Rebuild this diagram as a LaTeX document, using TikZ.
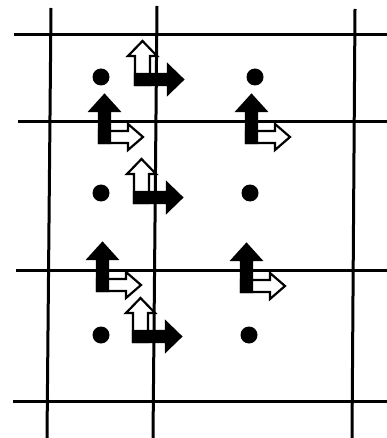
\documentclass[tikz,border=0pt]{standalone}
\begin{document}
\begin{tikzpicture}[x=1pt,y=-1pt,
  gridline/.style={line width=3pt,black},
  arr/.style={line width=2.2pt,line join=miter,draw=black},
  dot/.style={circle,fill=black,inner sep=0pt,minimum size=17pt},
  pics/typeA/.style={code={
    \draw[arr,fill=white] (0,0) -- (0,-29) -- (-7,-29) -- (7.5,-44) -- (22,-29) -- (15,-29) -- (15,0) -- cycle;
    \draw[arr,fill=black] (0,0) -- (0,-11) -- (33,-11) -- (33,-20) -- (48,-5.5) -- (33,9) -- (33,0) -- cycle;
  }},
  pics/typeB/.style={code={
    \draw[arr,fill=white] (0,0) -- (0,-12) -- (29,-12) -- (29,-19) -- (44,-6) -- (29,7) -- (29,0) -- cycle;
    \draw[arr,fill=black] (0,0) -- (0,-32) -- (-9,-32) -- (5.5,-48) -- (20,-32) -- (11,-32) -- (11,0) -- cycle;
  }}]
\useasboundingbox (0,0) rectangle (387,438);
% grid
\draw[gridline] (14,35) -- (387,35);
\draw[gridline] (18,122) -- (387,122);
\draw[gridline] (16,270) -- (387,270);
\draw[gridline] (13,401) -- (387,401);
\draw[gridline] (51,8) -- (47,438);
\draw[gridline] (157,6) -- (153,438);
\draw[gridline] (355,9) -- (352,438);
% dots
\node[dot] (d1) at (101,77) {};
\node[dot] (d2) at (255,77) {};
\node[dot] (d3) at (101,193) {};
\node[dot] (d4) at (250,193) {};
\node[dot] (d5) at (101,335) {};
\node[dot] (d6) at (249,335) {};
% arrows
\pic at (135,85) {typeA};
\pic at (134,203) {typeA};
\pic at (133,342) {typeA};
\pic at (99,143) {typeB};
\pic at (246,143) {typeB};
\pic at (97,291) {typeB};
\pic at (241,292) {typeB};
\end{tikzpicture}
\end{document}
